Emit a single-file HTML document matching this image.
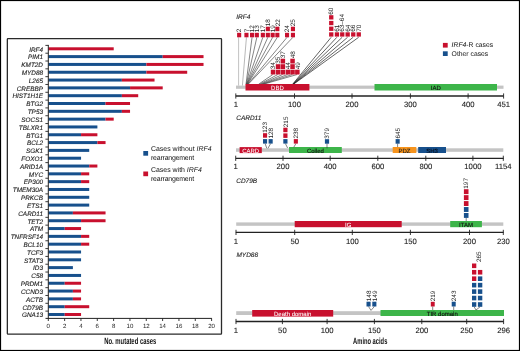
<!DOCTYPE html>
<html><head><meta charset="utf-8"><style>
html,body{margin:0;padding:0;background:#fff;}
svg{display:block;will-change:transform;}
text{text-rendering:geometricPrecision;}
text{font-family:"Liberation Sans",sans-serif;}
.gl{font-size:6.4px;font-style:italic;text-anchor:end;fill:#222;stroke:#222;stroke-width:0.12px;}
.xt{font-size:6.1px;text-anchor:middle;fill:#222;}
.at{font-size:7.7px;text-anchor:middle;fill:#1a1a1a;stroke:#1a1a1a;stroke-width:0.1px;}
.cond{font-size:9px;fill:#111;font-weight:bold;}
.lg{font-size:6.95px;fill:#111;}
.lg2{font-size:6.8px;fill:#111;}
.pn{font-size:6.5px;font-style:italic;fill:#222;stroke:#222;stroke-width:0.1px;}
.dl{text-anchor:middle;}
.ml{font-size:6.4px;fill:#222;}
</style></head><body>
<svg width="520" height="351" viewBox="0 0 520 351">
<rect width="520" height="351" fill="#fff"/>
<rect x="0.5" y="0.5" width="519" height="350" fill="none" stroke="#000" stroke-width="1.2"/>
<rect x="7.35" y="38.7" width="214.15" height="295.5" rx="0.6" fill="none" stroke="#2a2a2a" stroke-width="1.3"/>
<rect x="48.4" y="47.3" width="65.32" height="3" fill="#c8102e"/>
<text x="43" y="51.6" class="gl">IRF4</text>
<rect x="48.4" y="55.11" width="114.31" height="3" fill="#17508c"/>
<rect x="162.71" y="55.11" width="40.82" height="3" fill="#c8102e"/>
<text x="43" y="59.41" class="gl">PIM1</text>
<rect x="48.4" y="62.93" width="97.98" height="3" fill="#17508c"/>
<rect x="146.38" y="62.93" width="57.15" height="3" fill="#c8102e"/>
<text x="43" y="67.23" class="gl">KMT2D</text>
<rect x="48.4" y="70.75" width="97.98" height="3" fill="#17508c"/>
<rect x="146.38" y="70.75" width="40.82" height="3" fill="#c8102e"/>
<text x="43" y="75.05" class="gl">MYD88</text>
<rect x="48.4" y="78.56" width="73.48" height="3" fill="#17508c"/>
<rect x="121.88" y="78.56" width="32.66" height="3" fill="#c8102e"/>
<text x="43" y="82.86" class="gl">L265</text>
<rect x="48.4" y="86.38" width="81.65" height="3" fill="#17508c"/>
<rect x="130.05" y="86.38" width="32.66" height="3" fill="#c8102e"/>
<text x="43" y="90.67" class="gl">CREBBP</text>
<rect x="48.4" y="94.19" width="73.48" height="3" fill="#17508c"/>
<rect x="121.88" y="94.19" width="16.33" height="3" fill="#c8102e"/>
<text x="43" y="98.49" class="gl">HIST1H1E</text>
<rect x="48.4" y="102" width="57.15" height="3" fill="#17508c"/>
<rect x="105.55" y="102" width="24.49" height="3" fill="#c8102e"/>
<text x="43" y="106.3" class="gl">BTG2</text>
<rect x="48.4" y="109.82" width="73.48" height="3" fill="#17508c"/>
<rect x="121.88" y="109.82" width="8.16" height="3" fill="#c8102e"/>
<text x="43" y="114.12" class="gl">TP53</text>
<rect x="48.4" y="117.64" width="57.15" height="3" fill="#17508c"/>
<rect x="105.55" y="117.64" width="8.16" height="3" fill="#c8102e"/>
<text x="43" y="121.94" class="gl">SOCS1</text>
<rect x="48.4" y="125.45" width="48.99" height="3" fill="#17508c"/>
<text x="43" y="129.75" class="gl">TBLXR1</text>
<rect x="48.4" y="133.26" width="32.66" height="3" fill="#17508c"/>
<rect x="81.06" y="133.26" width="16.33" height="3" fill="#c8102e"/>
<text x="43" y="137.56" class="gl">BTG1</text>
<rect x="48.4" y="141.08" width="48.99" height="3" fill="#17508c"/>
<rect x="97.39" y="141.08" width="8.16" height="3" fill="#c8102e"/>
<text x="43" y="145.38" class="gl">BCL2</text>
<rect x="48.4" y="148.89" width="40.82" height="3" fill="#17508c"/>
<text x="43" y="153.19" class="gl">SGK1</text>
<rect x="48.4" y="156.71" width="32.66" height="3" fill="#17508c"/>
<text x="43" y="161.01" class="gl">FOXO1</text>
<rect x="48.4" y="164.53" width="40.82" height="3" fill="#17508c"/>
<rect x="89.22" y="164.53" width="8.16" height="3" fill="#c8102e"/>
<text x="43" y="168.83" class="gl">ARID1A</text>
<rect x="48.4" y="172.34" width="32.66" height="3" fill="#17508c"/>
<rect x="81.06" y="172.34" width="8.16" height="3" fill="#c8102e"/>
<text x="43" y="176.64" class="gl">MYC</text>
<rect x="48.4" y="180.16" width="32.66" height="3" fill="#17508c"/>
<rect x="81.06" y="180.16" width="8.16" height="3" fill="#c8102e"/>
<text x="43" y="184.46" class="gl">EP300</text>
<rect x="48.4" y="187.97" width="40.82" height="3" fill="#17508c"/>
<text x="43" y="192.27" class="gl">TMEM30A</text>
<rect x="48.4" y="195.79" width="40.82" height="3" fill="#17508c"/>
<text x="43" y="200.09" class="gl">PRKCB</text>
<rect x="48.4" y="203.6" width="40.82" height="3" fill="#17508c"/>
<text x="43" y="207.9" class="gl">ETS1</text>
<rect x="48.4" y="211.42" width="24.49" height="3" fill="#17508c"/>
<rect x="72.89" y="211.42" width="32.66" height="3" fill="#c8102e"/>
<text x="43" y="215.72" class="gl">CARD11</text>
<rect x="48.4" y="219.23" width="32.66" height="3" fill="#17508c"/>
<rect x="81.06" y="219.23" width="24.49" height="3" fill="#c8102e"/>
<text x="43" y="223.53" class="gl">TET2</text>
<rect x="48.4" y="227.05" width="16.33" height="3" fill="#17508c"/>
<rect x="64.73" y="227.05" width="16.33" height="3" fill="#c8102e"/>
<text x="43" y="231.35" class="gl">ATM</text>
<rect x="48.4" y="234.86" width="32.66" height="3" fill="#17508c"/>
<rect x="81.06" y="234.86" width="8.16" height="3" fill="#c8102e"/>
<text x="43" y="239.16" class="gl">TNFRSF14</text>
<rect x="48.4" y="242.68" width="32.66" height="3" fill="#17508c"/>
<rect x="81.06" y="242.68" width="8.16" height="3" fill="#c8102e"/>
<text x="43" y="246.98" class="gl">BCL10</text>
<rect x="48.4" y="250.49" width="32.66" height="3" fill="#17508c"/>
<text x="43" y="254.79" class="gl">TCF3</text>
<rect x="48.4" y="258.31" width="32.66" height="3" fill="#17508c"/>
<text x="43" y="262.61" class="gl">STAT3</text>
<rect x="48.4" y="266.12" width="24.49" height="3" fill="#17508c"/>
<text x="43" y="270.42" class="gl">ID3</text>
<rect x="48.4" y="273.94" width="32.66" height="3" fill="#17508c"/>
<text x="43" y="278.24" class="gl">C58</text>
<rect x="48.4" y="281.75" width="16.33" height="3" fill="#17508c"/>
<rect x="64.73" y="281.75" width="16.33" height="3" fill="#c8102e"/>
<text x="43" y="286.05" class="gl">PRDM1</text>
<rect x="48.4" y="289.56" width="24.49" height="3" fill="#17508c"/>
<rect x="72.89" y="289.56" width="8.16" height="3" fill="#c8102e"/>
<text x="43" y="293.87" class="gl">CCND3</text>
<rect x="48.4" y="297.38" width="24.49" height="3" fill="#17508c"/>
<rect x="72.89" y="297.38" width="8.16" height="3" fill="#c8102e"/>
<text x="43" y="301.68" class="gl">ACTB</text>
<rect x="48.4" y="305.2" width="16.33" height="3" fill="#17508c"/>
<rect x="64.73" y="305.2" width="24.49" height="3" fill="#c8102e"/>
<text x="43" y="309.5" class="gl">CD79B</text>
<rect x="48.4" y="313.01" width="16.33" height="3" fill="#17508c"/>
<rect x="64.73" y="313.01" width="16.33" height="3" fill="#c8102e"/>
<text x="43" y="317.31" class="gl">GNA13</text>
<line x1="48.3" y1="44.9" x2="48.3" y2="318.4" stroke="#222" stroke-width="1"/>
<line x1="45.4" y1="45.4" x2="48.3" y2="45.4" stroke="#222" stroke-width="0.9"/>
<line x1="45.4" y1="53.21" x2="48.3" y2="53.21" stroke="#222" stroke-width="0.9"/>
<line x1="45.4" y1="61.03" x2="48.3" y2="61.03" stroke="#222" stroke-width="0.9"/>
<line x1="45.4" y1="68.84" x2="48.3" y2="68.84" stroke="#222" stroke-width="0.9"/>
<line x1="45.4" y1="76.66" x2="48.3" y2="76.66" stroke="#222" stroke-width="0.9"/>
<line x1="45.4" y1="84.47" x2="48.3" y2="84.47" stroke="#222" stroke-width="0.9"/>
<line x1="45.4" y1="92.29" x2="48.3" y2="92.29" stroke="#222" stroke-width="0.9"/>
<line x1="45.4" y1="100.11" x2="48.3" y2="100.11" stroke="#222" stroke-width="0.9"/>
<line x1="45.4" y1="107.92" x2="48.3" y2="107.92" stroke="#222" stroke-width="0.9"/>
<line x1="45.4" y1="115.74" x2="48.3" y2="115.74" stroke="#222" stroke-width="0.9"/>
<line x1="45.4" y1="123.55" x2="48.3" y2="123.55" stroke="#222" stroke-width="0.9"/>
<line x1="45.4" y1="131.37" x2="48.3" y2="131.37" stroke="#222" stroke-width="0.9"/>
<line x1="45.4" y1="139.18" x2="48.3" y2="139.18" stroke="#222" stroke-width="0.9"/>
<line x1="45.4" y1="147" x2="48.3" y2="147" stroke="#222" stroke-width="0.9"/>
<line x1="45.4" y1="154.81" x2="48.3" y2="154.81" stroke="#222" stroke-width="0.9"/>
<line x1="45.4" y1="162.62" x2="48.3" y2="162.62" stroke="#222" stroke-width="0.9"/>
<line x1="45.4" y1="170.44" x2="48.3" y2="170.44" stroke="#222" stroke-width="0.9"/>
<line x1="45.4" y1="178.26" x2="48.3" y2="178.26" stroke="#222" stroke-width="0.9"/>
<line x1="45.4" y1="186.07" x2="48.3" y2="186.07" stroke="#222" stroke-width="0.9"/>
<line x1="45.4" y1="193.89" x2="48.3" y2="193.89" stroke="#222" stroke-width="0.9"/>
<line x1="45.4" y1="201.7" x2="48.3" y2="201.7" stroke="#222" stroke-width="0.9"/>
<line x1="45.4" y1="209.52" x2="48.3" y2="209.52" stroke="#222" stroke-width="0.9"/>
<line x1="45.4" y1="217.33" x2="48.3" y2="217.33" stroke="#222" stroke-width="0.9"/>
<line x1="45.4" y1="225.15" x2="48.3" y2="225.15" stroke="#222" stroke-width="0.9"/>
<line x1="45.4" y1="232.96" x2="48.3" y2="232.96" stroke="#222" stroke-width="0.9"/>
<line x1="45.4" y1="240.78" x2="48.3" y2="240.78" stroke="#222" stroke-width="0.9"/>
<line x1="45.4" y1="248.59" x2="48.3" y2="248.59" stroke="#222" stroke-width="0.9"/>
<line x1="45.4" y1="256.41" x2="48.3" y2="256.41" stroke="#222" stroke-width="0.9"/>
<line x1="45.4" y1="264.22" x2="48.3" y2="264.22" stroke="#222" stroke-width="0.9"/>
<line x1="45.4" y1="272.04" x2="48.3" y2="272.04" stroke="#222" stroke-width="0.9"/>
<line x1="45.4" y1="279.85" x2="48.3" y2="279.85" stroke="#222" stroke-width="0.9"/>
<line x1="45.4" y1="287.67" x2="48.3" y2="287.67" stroke="#222" stroke-width="0.9"/>
<line x1="45.4" y1="295.48" x2="48.3" y2="295.48" stroke="#222" stroke-width="0.9"/>
<line x1="45.4" y1="303.3" x2="48.3" y2="303.3" stroke="#222" stroke-width="0.9"/>
<line x1="45.4" y1="311.11" x2="48.3" y2="311.11" stroke="#222" stroke-width="0.9"/>
<line x1="45.5" y1="318.4" x2="211.9" y2="318.4" stroke="#222" stroke-width="1"/>
<line x1="48.3" y1="318.4" x2="48.3" y2="321" stroke="#222" stroke-width="0.9"/>
<text x="48.3" y="328.4" class="xt">0</text>
<line x1="64.63" y1="318.4" x2="64.63" y2="321" stroke="#222" stroke-width="0.9"/>
<text x="64.63" y="328.4" class="xt">2</text>
<line x1="80.96" y1="318.4" x2="80.96" y2="321" stroke="#222" stroke-width="0.9"/>
<text x="80.96" y="328.4" class="xt">4</text>
<line x1="97.29" y1="318.4" x2="97.29" y2="321" stroke="#222" stroke-width="0.9"/>
<text x="97.29" y="328.4" class="xt">6</text>
<line x1="113.62" y1="318.4" x2="113.62" y2="321" stroke="#222" stroke-width="0.9"/>
<text x="113.62" y="328.4" class="xt">8</text>
<line x1="129.95" y1="318.4" x2="129.95" y2="321" stroke="#222" stroke-width="0.9"/>
<text x="129.95" y="328.4" class="xt">10</text>
<line x1="146.28" y1="318.4" x2="146.28" y2="321" stroke="#222" stroke-width="0.9"/>
<text x="146.28" y="328.4" class="xt">12</text>
<line x1="162.61" y1="318.4" x2="162.61" y2="321" stroke="#222" stroke-width="0.9"/>
<text x="162.61" y="328.4" class="xt">14</text>
<line x1="178.94" y1="318.4" x2="178.94" y2="321" stroke="#222" stroke-width="0.9"/>
<text x="178.94" y="328.4" class="xt">16</text>
<line x1="195.27" y1="318.4" x2="195.27" y2="321" stroke="#222" stroke-width="0.9"/>
<text x="195.27" y="328.4" class="xt">18</text>
<line x1="211.6" y1="318.4" x2="211.6" y2="321" stroke="#222" stroke-width="0.9"/>
<text x="211.6" y="328.4" class="xt">20</text>
<text x="104.2" y="344.3" class="cond" transform="translate(104.2 0) scale(0.655 1) translate(-104.2 0)">No. mutated cases</text>
<rect x="143.3" y="151" width="4.8" height="4.7" fill="#17508c"/>
<text x="151.0" y="151.2" class="lg">Cases without <tspan font-style="italic">IRF4</tspan></text>
<text x="151.0" y="159.9" class="lg" letter-spacing="-0.2">rearrangement</text>
<rect x="143.3" y="171.5" width="4.8" height="4.7" fill="#c8102e"/>
<text x="151.0" y="171.9" class="lg">Cases with <tspan font-style="italic">IRF4</tspan></text>
<text x="151.0" y="180.6" class="lg" letter-spacing="-0.2">rearrangement</text>
<text x="236.2" y="19.4" class="pn">IRF4</text>
<rect x="442.9" y="42.9" width="4.8" height="4.7" fill="#c8102e"/>
<text x="451.6" y="47.4" class="lg2"><tspan font-style="italic">IRF4</tspan>-R cases</text>
<rect x="442.9" y="51.3" width="4.8" height="4.7" fill="#17508c"/>
<text x="451.6" y="55.7" class="lg2">Other cases</text>
<line x1="238.6" y1="37.3" x2="238.6" y2="85.7" stroke="#999" stroke-width="0.6"/>
<line x1="246.45" y1="37.3" x2="242.4" y2="85.7" stroke="#888" stroke-width="0.6"/>
<line x1="252.05" y1="37.3" x2="246" y2="84.2" stroke="#333" stroke-width="0.6"/>
<line x1="256.85" y1="37.3" x2="246.3" y2="84.2" stroke="#333" stroke-width="0.6"/>
<line x1="262.85" y1="37.3" x2="246.6" y2="84.2" stroke="#333" stroke-width="0.6"/>
<line x1="267.85" y1="37.3" x2="246.9" y2="84.2" stroke="#333" stroke-width="0.6"/>
<line x1="272.65" y1="37.3" x2="247.2" y2="84.2" stroke="#333" stroke-width="0.6"/>
<line x1="277.35" y1="37.3" x2="247.5" y2="84.2" stroke="#333" stroke-width="0.6"/>
<line x1="287.05" y1="37.3" x2="247.9" y2="84.2" stroke="#333" stroke-width="0.6"/>
<line x1="292.95" y1="37.3" x2="248.3" y2="84.2" stroke="#333" stroke-width="0.6"/>
<line x1="272.85" y1="74.5" x2="258.6" y2="84.2" stroke="#333" stroke-width="0.6"/>
<line x1="277.85" y1="74.5" x2="259.6" y2="84.2" stroke="#333" stroke-width="0.6"/>
<line x1="282.65" y1="74.5" x2="260.6" y2="84.2" stroke="#333" stroke-width="0.6"/>
<line x1="287.65" y1="74.5" x2="261.6" y2="84.2" stroke="#333" stroke-width="0.6"/>
<line x1="292.35" y1="74.5" x2="262.6" y2="84.2" stroke="#333" stroke-width="0.6"/>
<line x1="297.15" y1="74.5" x2="263.6" y2="84.2" stroke="#333" stroke-width="0.6"/>
<line x1="331.15" y1="37.3" x2="292.8" y2="84" stroke="#222" stroke-width="0.7"/>
<line x1="336.85" y1="37.3" x2="293" y2="84" stroke="#222" stroke-width="0.7"/>
<line x1="342.15" y1="37.3" x2="293.2" y2="84" stroke="#222" stroke-width="0.7"/>
<line x1="347.55" y1="37.3" x2="293.4" y2="84" stroke="#222" stroke-width="0.7"/>
<line x1="353.15" y1="37.3" x2="293.6" y2="84" stroke="#222" stroke-width="0.7"/>
<line x1="358.65" y1="37.3" x2="293.8" y2="84" stroke="#222" stroke-width="0.7"/>
<rect x="237.1" y="32.8" width="4.1" height="4.5" fill="#c8102e"/>
<text class="ml" transform="translate(241.35 32.3) rotate(-90)" x="0" y="0">2</text>
<rect x="244.4" y="32.8" width="4.1" height="4.5" fill="#c8102e"/>
<text class="ml" transform="translate(248.65 32.3) rotate(-90)" x="0" y="0">7</text>
<rect x="250" y="32.8" width="4.1" height="4.5" fill="#c8102e"/>
<text class="ml" transform="translate(254.25 32.3) rotate(-90)" x="0" y="0">12</text>
<rect x="254.8" y="32.8" width="4.1" height="4.5" fill="#c8102e"/>
<text class="ml" transform="translate(259.05 32.3) rotate(-90)" x="0" y="0">13</text>
<rect x="260.8" y="32.8" width="4.1" height="4.5" fill="#c8102e"/>
<text class="ml" transform="translate(265.05 32.3) rotate(-90)" x="0" y="0">17</text>
<rect x="265.8" y="26.7" width="4.1" height="4.5" fill="#c8102e"/>
<rect x="265.8" y="32.8" width="4.1" height="4.5" fill="#c8102e"/>
<text class="ml" transform="translate(270.05 26.2) rotate(-90)" x="0" y="0">18</text>
<rect x="270.6" y="32.8" width="4.1" height="4.5" fill="#c8102e"/>
<text class="ml" transform="translate(274.85 32.3) rotate(-90)" x="0" y="0">19</text>
<rect x="275.3" y="26.7" width="4.1" height="4.5" fill="#c8102e"/>
<rect x="275.3" y="32.8" width="4.1" height="4.5" fill="#c8102e"/>
<text class="ml" transform="translate(279.55 26.2) rotate(-90)" x="0" y="0">22</text>
<rect x="285" y="32.8" width="4.1" height="4.5" fill="#c8102e"/>
<text class="ml" transform="translate(289.25 32.3) rotate(-90)" x="0" y="0">24</text>
<rect x="290.9" y="26.7" width="4.1" height="4.5" fill="#c8102e"/>
<rect x="290.9" y="32.8" width="4.1" height="4.5" fill="#c8102e"/>
<text class="ml" transform="translate(295.15 26.2) rotate(-90)" x="0" y="0">25</text>
<rect x="270.8" y="69.7" width="4.5" height="4.8" fill="#c8102e"/>
<text class="ml" transform="translate(275.25 69.2) rotate(-90)" x="0" y="0">34</text>
<rect x="275.8" y="64.2" width="4.5" height="4.8" fill="#c8102e"/>
<rect x="275.8" y="69.7" width="4.5" height="4.8" fill="#c8102e"/>
<text class="ml" transform="translate(280.25 63.7) rotate(-90)" x="0" y="0">35</text>
<rect x="280.6" y="58.7" width="4.5" height="4.8" fill="#c8102e"/>
<rect x="280.6" y="64.2" width="4.5" height="4.8" fill="#c8102e"/>
<rect x="280.6" y="69.7" width="4.5" height="4.8" fill="#c8102e"/>
<text class="ml" transform="translate(285.05 58.2) rotate(-90)" x="0" y="0">37</text>
<rect x="285.6" y="69.7" width="4.5" height="4.8" fill="#c8102e"/>
<text class="ml" transform="translate(290.05 69.2) rotate(-90)" x="0" y="0">44</text>
<rect x="290.3" y="58.7" width="4.5" height="4.8" fill="#c8102e"/>
<rect x="290.3" y="64.2" width="4.5" height="4.8" fill="#c8102e"/>
<rect x="290.3" y="69.7" width="4.5" height="4.8" fill="#c8102e"/>
<text class="ml" transform="translate(294.75 58.2) rotate(-90)" x="0" y="0">48</text>
<rect x="295.1" y="69.7" width="4.5" height="4.8" fill="#c8102e"/>
<text class="ml" transform="translate(299.55 69.2) rotate(-90)" x="0" y="0">49</text>
<rect x="329.1" y="15.2" width="4.3" height="4.3" fill="#c8102e"/>
<rect x="329.1" y="20.9" width="4.3" height="4.3" fill="#c8102e"/>
<rect x="329.1" y="26.6" width="4.3" height="4.3" fill="#c8102e"/>
<rect x="329.1" y="32.3" width="4.3" height="4.3" fill="#c8102e"/>
<text class="ml" transform="translate(333.45 14.7) rotate(-90)" x="0" y="0">60</text>
<rect x="334.8" y="32.3" width="4.3" height="4.3" fill="#c8102e"/>
<text class="ml" transform="translate(339.15 31.8) rotate(-90)" x="0" y="0">61</text>
<rect x="340.1" y="32.3" width="4.3" height="4.3" fill="#c8102e"/>
<text class="ml" transform="translate(344.45 31.8) rotate(-90)" x="0" y="0">63–64</text>
<rect x="345.5" y="32.3" width="4.3" height="4.3" fill="#c8102e"/>
<text class="ml" transform="translate(349.85 31.8) rotate(-90)" x="0" y="0">64</text>
<rect x="351.1" y="32.3" width="4.3" height="4.3" fill="#c8102e"/>
<text class="ml" transform="translate(355.45 31.8) rotate(-90)" x="0" y="0">66</text>
<rect x="356.6" y="32.3" width="4.3" height="4.3" fill="#c8102e"/>
<text class="ml" transform="translate(360.95 31.8) rotate(-90)" x="0" y="0">70</text>
<rect x="236" y="85.6" width="267.5" height="3.2" fill="#c4c4c4"/>
<rect x="245.5" y="84" width="63.9" height="6.5" fill="#c8102e"/>
<text x="277.45" y="89.9" class="dl" fill="#fff" stroke="#fff" stroke-width="0.05" font-size="6">DBD</text>
<rect x="374.5" y="84" width="122.5" height="6.5" fill="#3db54a"/>
<text x="435.75" y="89.9" class="dl" fill="#111" stroke="#111" stroke-width="0.12" font-size="6">IAD</text>
<line x1="235.8" y1="96" x2="503.6" y2="96" stroke="#222" stroke-width="1.3"/>
<line x1="235.8" y1="93.4" x2="235.8" y2="98.6" stroke="#222" stroke-width="0.9"/>
<text x="235.8" y="107" class="at">1</text>
<line x1="294.5" y1="93.4" x2="294.5" y2="98.6" stroke="#222" stroke-width="0.9"/>
<text x="294.5" y="107" class="at">100</text>
<line x1="352" y1="93.4" x2="352" y2="98.6" stroke="#222" stroke-width="0.9"/>
<text x="352" y="107" class="at">200</text>
<line x1="410.4" y1="93.4" x2="410.4" y2="98.6" stroke="#222" stroke-width="0.9"/>
<text x="410.4" y="107" class="at">300</text>
<line x1="468.1" y1="93.4" x2="468.1" y2="98.6" stroke="#222" stroke-width="0.9"/>
<text x="468.1" y="107" class="at">400</text>
<line x1="503.6" y1="93.4" x2="503.6" y2="98.6" stroke="#222" stroke-width="0.9"/>
<text x="503.6" y="107" class="at">451</text>
<text x="236.2" y="119.9" class="pn">CARD11</text>
<rect x="236" y="148.3" width="267.3" height="3.5" fill="#c4c4c4"/>
<rect x="239.6" y="147.1" width="22.2" height="6" fill="#c8102e"/>
<text x="250.7" y="152.75" class="dl" fill="#fff" stroke="#fff" stroke-width="0.05" font-size="6">CARD</text>
<rect x="289" y="147" width="52.8" height="6" fill="#3db54a"/>
<text x="315.4" y="152.65" class="dl" fill="#111" stroke="#111" stroke-width="0.12" font-size="6">Coiled</text>
<rect x="392.7" y="147" width="23.6" height="6" fill="#f7941d"/>
<text x="404.5" y="152.65" class="dl" fill="#222" stroke="#222" stroke-width="0.12" font-size="6">PDZ</text>
<rect x="418.2" y="147" width="27.8" height="6" fill="#17508c"/>
<text x="432.1" y="152.65" class="dl" fill="#050a14" stroke="#050a14" stroke-width="0.12" font-size="6">SH3</text>
<line x1="265.1" y1="143.6" x2="266.8" y2="148.3" stroke="#333" stroke-width="0.6"/>
<line x1="270.6" y1="143.6" x2="268" y2="148.3" stroke="#333" stroke-width="0.6"/>
<line x1="285.4" y1="143.6" x2="287.6" y2="148" stroke="#333" stroke-width="0.6"/>
<line x1="295.9" y1="143.6" x2="293.8" y2="147.2" stroke="#333" stroke-width="0.6"/>
<line x1="327" y1="143.6" x2="327" y2="148.3" stroke="#333" stroke-width="0.6"/>
<line x1="397.6" y1="143.6" x2="397.6" y2="147" stroke="#333" stroke-width="0.6"/>
<rect x="263" y="133.2" width="4.1" height="4.5" fill="#c8102e"/>
<rect x="263" y="139.1" width="4.1" height="4.5" fill="#17508c"/>
<text class="ml" transform="translate(267.25 132.7) rotate(-90)" x="0" y="0">123</text>
<rect x="268.6" y="139.1" width="4.1" height="4.5" fill="#17508c"/>
<text class="ml" transform="translate(272.85 138.6) rotate(-90)" x="0" y="0">128</text>
<rect x="283.3" y="127.7" width="4.2" height="4.5" fill="#c8102e"/>
<rect x="283.3" y="133.4" width="4.2" height="4.5" fill="#c8102e"/>
<rect x="283.3" y="139.1" width="4.2" height="4.5" fill="#17508c"/>
<text class="ml" transform="translate(287.6 127.2) rotate(-90)" x="0" y="0">215</text>
<rect x="293.8" y="139.1" width="4.1" height="4.5" fill="#c8102e"/>
<text class="ml" transform="translate(298.05 138.6) rotate(-90)" x="0" y="0">238</text>
<rect x="324.9" y="139.2" width="4.2" height="4.5" fill="#17508c"/>
<text class="ml" transform="translate(329.2 138.7) rotate(-90)" x="0" y="0">379</text>
<rect x="395.6" y="139.1" width="4.1" height="4.6" fill="#17508c"/>
<text class="ml" transform="translate(399.85 138.6) rotate(-90)" x="0" y="0">645</text>
<line x1="235.8" y1="158.3" x2="503.6" y2="158.3" stroke="#222" stroke-width="1.3"/>
<line x1="235.7" y1="155.7" x2="235.7" y2="160.9" stroke="#222" stroke-width="0.9"/>
<text x="235.7" y="169.2" class="at">1</text>
<line x1="283" y1="155.7" x2="283" y2="160.9" stroke="#222" stroke-width="0.9"/>
<text x="283" y="169.2" class="at">200</text>
<line x1="330.2" y1="155.7" x2="330.2" y2="160.9" stroke="#222" stroke-width="0.9"/>
<text x="330.2" y="169.2" class="at">400</text>
<line x1="377.8" y1="155.7" x2="377.8" y2="160.9" stroke="#222" stroke-width="0.9"/>
<text x="377.8" y="169.2" class="at">600</text>
<line x1="425.8" y1="155.7" x2="425.8" y2="160.9" stroke="#222" stroke-width="0.9"/>
<text x="425.8" y="169.2" class="at">800</text>
<line x1="472.9" y1="155.7" x2="472.9" y2="160.9" stroke="#222" stroke-width="0.9"/>
<text x="472.9" y="169.2" class="at">1000</text>
<line x1="503.3" y1="155.7" x2="503.3" y2="160.9" stroke="#222" stroke-width="0.9"/>
<text x="503.3" y="169.2" class="at">1154</text>
<text x="236.2" y="183.3" class="pn">CD79B</text>
<rect x="236.2" y="222.4" width="267.1" height="3.4" fill="#c4c4c4"/>
<rect x="294.7" y="221" width="107" height="6.2" fill="#c8102e"/>
<text x="348.2" y="226.75" class="dl" fill="#fff" stroke="#fff" stroke-width="0.05" font-size="6">IG</text>
<rect x="450.2" y="221" width="31.7" height="6.2" fill="#3db54a"/>
<text x="466.05" y="226.75" class="dl" fill="#111" stroke="#111" stroke-width="0.12" font-size="6">ITAM</text>
<line x1="466.2" y1="217.6" x2="466.2" y2="221" stroke="#333" stroke-width="0.6"/>
<rect x="463.9" y="189.2" width="4.6" height="4.9" fill="#c8102e"/>
<rect x="463.9" y="195.15" width="4.6" height="4.9" fill="#c8102e"/>
<rect x="463.9" y="201.1" width="4.6" height="4.9" fill="#c8102e"/>
<rect x="463.9" y="207.05" width="4.6" height="4.9" fill="#17508c"/>
<rect x="463.9" y="213" width="4.6" height="4.9" fill="#17508c"/>
<text class="ml" transform="translate(468.4 188.7) rotate(-90)" x="0" y="0">197</text>
<line x1="235.8" y1="232.4" x2="503.6" y2="232.4" stroke="#222" stroke-width="1.3"/>
<line x1="236" y1="229.8" x2="236" y2="235" stroke="#222" stroke-width="0.9"/>
<text x="236" y="243.8" class="at">1</text>
<line x1="294.7" y1="229.8" x2="294.7" y2="235" stroke="#222" stroke-width="0.9"/>
<text x="294.7" y="243.8" class="at">50</text>
<line x1="352.3" y1="229.8" x2="352.3" y2="235" stroke="#222" stroke-width="0.9"/>
<text x="352.3" y="243.8" class="at">100</text>
<line x1="410.4" y1="229.8" x2="410.4" y2="235" stroke="#222" stroke-width="0.9"/>
<text x="410.4" y="243.8" class="at">150</text>
<line x1="469.5" y1="229.8" x2="469.5" y2="235" stroke="#222" stroke-width="0.9"/>
<text x="469.5" y="243.8" class="at">200</text>
<line x1="503.3" y1="229.8" x2="503.3" y2="235" stroke="#222" stroke-width="0.9"/>
<text x="503.3" y="243.8" class="at">230</text>
<text x="236.4" y="256.6" class="pn">MYD88</text>
<rect x="236.2" y="311.2" width="144.8" height="3.8" fill="#c4c4c4"/>
<rect x="252.2" y="310" width="81" height="6.6" fill="#c8102e"/>
<text x="292.7" y="315.95" class="dl" fill="#fff" stroke="#fff" stroke-width="0.05" font-size="6">Death domain</text>
<rect x="380.5" y="310" width="123.5" height="6" fill="#3db54a"/>
<text x="442.25" y="315.65" class="dl" fill="#111" stroke="#111" stroke-width="0.12" font-size="6">TIR domain</text>
<line x1="368.5" y1="306.5" x2="371" y2="310.4" stroke="#333" stroke-width="0.6"/>
<line x1="374.4" y1="306.5" x2="371" y2="310.4" stroke="#333" stroke-width="0.6"/>
<line x1="432.7" y1="306.5" x2="432.7" y2="310" stroke="#333" stroke-width="0.6"/>
<line x1="453.7" y1="306.5" x2="453.7" y2="310" stroke="#333" stroke-width="0.6"/>
<line x1="474.1" y1="306.8" x2="476" y2="310" stroke="#333" stroke-width="0.6"/>
<line x1="480.1" y1="306.8" x2="476" y2="310" stroke="#333" stroke-width="0.6"/>
<rect x="366.5" y="301.7" width="4.1" height="4.8" fill="#17508c"/>
<text class="ml" transform="translate(370.75 301.2) rotate(-90)" x="0" y="0">148</text>
<rect x="372.3" y="301.7" width="4.1" height="4.8" fill="#17508c"/>
<text class="ml" transform="translate(376.55 301.2) rotate(-90)" x="0" y="0">149</text>
<rect x="430.8" y="301.8" width="3.9" height="4.7" fill="#c8102e"/>
<text class="ml" transform="translate(434.95 301.3) rotate(-90)" x="0" y="0">219</text>
<rect x="451.7" y="301.7" width="4" height="4.8" fill="#17508c"/>
<text class="ml" transform="translate(455.9 301.2) rotate(-90)" x="0" y="0">243</text>
<rect x="472" y="263.5" width="4.3" height="4.6" fill="#c8102e"/>
<rect x="472" y="269.95" width="4.3" height="4.6" fill="#c8102e"/>
<rect x="472" y="276.4" width="4.3" height="4.6" fill="#c8102e"/>
<rect x="472" y="282.85" width="4.3" height="4.6" fill="#17508c"/>
<rect x="472" y="289.3" width="4.3" height="4.6" fill="#17508c"/>
<rect x="472" y="295.75" width="4.3" height="4.6" fill="#17508c"/>
<rect x="472" y="302.2" width="4.3" height="4.6" fill="#17508c"/>
<rect x="477.9" y="269.95" width="4.4" height="4.6" fill="#c8102e"/>
<rect x="477.9" y="276.4" width="4.4" height="4.6" fill="#17508c"/>
<rect x="477.9" y="282.85" width="4.4" height="4.6" fill="#17508c"/>
<rect x="477.9" y="289.3" width="4.4" height="4.6" fill="#17508c"/>
<rect x="477.9" y="295.75" width="4.4" height="4.6" fill="#17508c"/>
<rect x="477.9" y="302.2" width="4.4" height="4.6" fill="#17508c"/>
<text class="ml" transform="translate(480.6 262) rotate(-90)" x="0" y="0">265</text>
<line x1="235.8" y1="321.5" x2="503.6" y2="321.5" stroke="#222" stroke-width="1.3"/>
<line x1="236" y1="318.9" x2="236" y2="324.1" stroke="#222" stroke-width="0.9"/>
<text x="236" y="332.8" class="at">1</text>
<line x1="282.4" y1="318.9" x2="282.4" y2="324.1" stroke="#222" stroke-width="0.9"/>
<text x="282.4" y="332.8" class="at">50</text>
<line x1="327.1" y1="318.9" x2="327.1" y2="324.1" stroke="#222" stroke-width="0.9"/>
<text x="327.1" y="332.8" class="at">100</text>
<line x1="374.4" y1="318.9" x2="374.4" y2="324.1" stroke="#222" stroke-width="0.9"/>
<text x="374.4" y="332.8" class="at">150</text>
<line x1="421.8" y1="318.9" x2="421.8" y2="324.1" stroke="#222" stroke-width="0.9"/>
<text x="421.8" y="332.8" class="at">200</text>
<line x1="466.7" y1="318.9" x2="466.7" y2="324.1" stroke="#222" stroke-width="0.9"/>
<text x="466.7" y="332.8" class="at">250</text>
<line x1="503.6" y1="318.9" x2="503.6" y2="324.1" stroke="#222" stroke-width="0.9"/>
<text x="503.6" y="332.8" class="at">296</text>
<text x="353.1" y="344.1" class="cond" transform="translate(353.1 0) scale(0.64 1) translate(-353.1 0)">Amino acids</text>
</svg>
</body></html>
